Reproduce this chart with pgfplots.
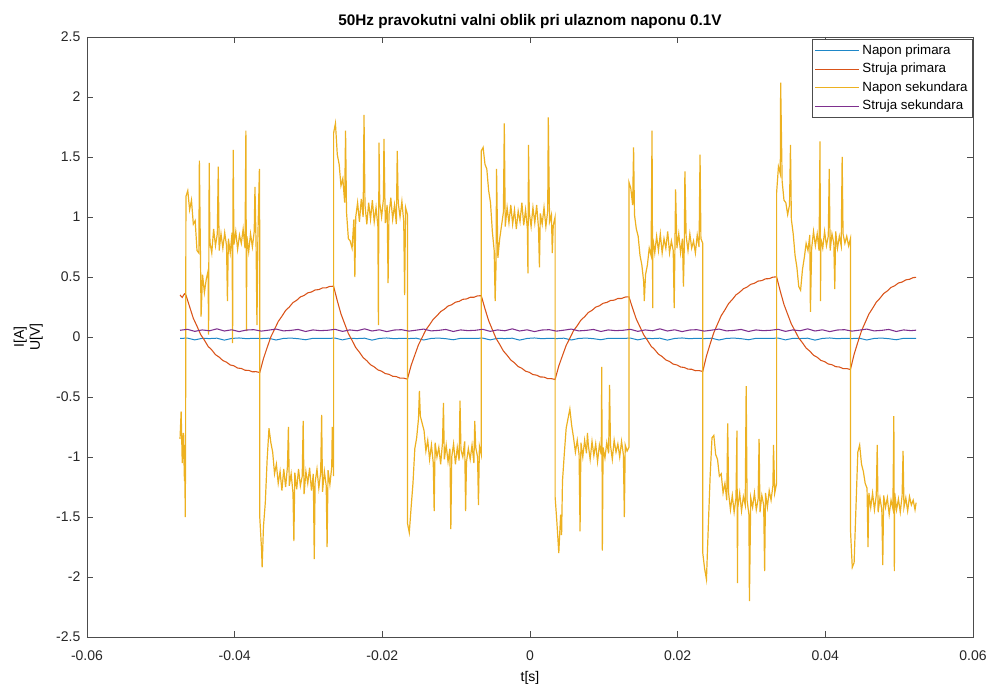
\documentclass[border=0pt]{standalone}
\usepackage{pgfplots}
\usepackage{pgfplotstable}
\pgfplotsset{compat=1.18}
\usepackage{fontspec}
\setmainfont{Liberation Sans}
\definecolor{mblue}{RGB}{30,135,200}
\definecolor{morange}{rgb}{0.85,0.325,0.098}
\definecolor{myellow}{rgb}{0.929,0.694,0.125}
\definecolor{mpurple}{rgb}{0.494,0.184,0.556}
\definecolor{axgray}{gray}{0.3}

\pgfplotstableread{
x b p
-0.0474 -0.012 0.056
-0.0464 -0.009 0.064
-0.0454 -0.024 0.047
-0.0444 -0.011 0.059
-0.0434 -0.013 0.052
-0.0424 -0.010 0.068
-0.0414 -0.026 0.050
-0.0404 -0.012 0.060
-0.0394 -0.008 0.045
-0.0384 -0.014 0.058
-0.0374 -0.011 0.061
-0.0364 -0.013 0.049
-0.0354 -0.010 0.057
-0.0344 -0.025 0.066
-0.0334 -0.012 0.051
-0.0324 -0.009 0.055
-0.0314 -0.014 0.063
-0.0304 -0.023 0.046
-0.0294 -0.011 0.059
-0.0284 -0.012 0.053
-0.0274 -0.012 0.056
-0.0264 -0.009 0.064
-0.0254 -0.024 0.047
-0.0244 -0.011 0.059
-0.0234 -0.013 0.052
-0.0224 -0.010 0.068
-0.0214 -0.026 0.050
-0.0204 -0.012 0.060
-0.0194 -0.008 0.045
-0.0184 -0.014 0.058
-0.0174 -0.011 0.061
-0.0164 -0.013 0.049
-0.0154 -0.010 0.057
-0.0144 -0.025 0.066
-0.0134 -0.012 0.051
-0.0124 -0.009 0.055
-0.0114 -0.014 0.063
-0.0104 -0.023 0.046
-0.0094 -0.011 0.059
-0.0084 -0.012 0.053
-0.0074 -0.012 0.056
-0.0064 -0.009 0.064
-0.0054 -0.024 0.047
-0.0044 -0.011 0.059
-0.0034 -0.013 0.052
-0.0024 -0.010 0.068
-0.0014 -0.026 0.050
-0.0004 -0.012 0.060
0.0006 -0.008 0.045
0.0016 -0.014 0.058
0.0026 -0.011 0.061
0.0036 -0.013 0.049
0.0046 -0.010 0.057
0.0056 -0.025 0.066
0.0066 -0.012 0.051
0.0076 -0.009 0.055
0.0086 -0.014 0.063
0.0096 -0.023 0.046
0.0106 -0.011 0.059
0.0116 -0.012 0.053
0.0126 -0.012 0.056
0.0136 -0.009 0.064
0.0146 -0.024 0.047
0.0156 -0.011 0.059
0.0166 -0.013 0.052
0.0176 -0.010 0.068
0.0186 -0.026 0.050
0.0196 -0.012 0.060
0.0206 -0.008 0.045
0.0216 -0.014 0.058
0.0226 -0.011 0.061
0.0236 -0.013 0.049
0.0246 -0.010 0.057
0.0256 -0.025 0.066
0.0266 -0.012 0.051
0.0276 -0.009 0.055
0.0286 -0.014 0.063
0.0296 -0.023 0.046
0.0306 -0.011 0.059
0.0316 -0.012 0.053
0.0326 -0.012 0.056
0.0336 -0.009 0.064
0.0346 -0.024 0.047
0.0356 -0.011 0.059
0.0366 -0.013 0.052
0.0376 -0.010 0.068
0.0386 -0.026 0.050
0.0396 -0.012 0.060
0.0406 -0.008 0.045
0.0416 -0.014 0.058
0.0426 -0.011 0.061
0.0436 -0.013 0.049
0.0446 -0.010 0.057
0.0456 -0.025 0.066
0.0466 -0.012 0.051
0.0476 -0.009 0.055
0.0486 -0.014 0.063
0.0496 -0.023 0.046
0.0506 -0.011 0.059
0.0516 -0.012 0.053
0.0523 -0.011 0.057
}\flatdata

\pgfplotstableread{
x r
-0.0474 0.350
-0.0471 0.330
-0.0468 0.360
-0.0466 0.350
-0.0461 0.252
-0.0456 0.156
-0.0451 0.090
-0.0446 0.020
-0.0441 -0.026
-0.0436 -0.078
-0.0431 -0.108
-0.0426 -0.147
-0.0421 -0.168
-0.0416 -0.196
-0.0411 -0.210
-0.0406 -0.233
-0.0401 -0.240
-0.0396 -0.259
-0.0391 -0.262
-0.0386 -0.277
-0.0381 -0.278
-0.0376 -0.290
-0.0371 -0.289
-0.0366 -0.296
-0.0361 -0.180
-0.0356 -0.088
-0.0351 0.001
-0.0346 0.064
-0.0341 0.129
-0.0336 0.173
-0.0331 0.221
-0.0326 0.250
-0.0321 0.287
-0.0316 0.306
-0.0311 0.334
-0.0306 0.346
-0.0301 0.368
-0.0296 0.375
-0.0291 0.392
-0.0286 0.395
-0.0281 0.409
-0.0276 0.410
-0.0271 0.422
-0.0266 0.423
-0.0261 0.302
-0.0256 0.192
-0.0251 0.110
-0.0246 0.029
-0.0241 -0.028
-0.0236 -0.088
-0.0231 -0.127
-0.0226 -0.171
-0.0221 -0.198
-0.0216 -0.231
-0.0211 -0.249
-0.0206 -0.274
-0.0201 -0.285
-0.0196 -0.305
-0.0191 -0.311
-0.0186 -0.327
-0.0181 -0.330
-0.0176 -0.343
-0.0171 -0.343
-0.0166 -0.351
-0.0161 -0.237
-0.0156 -0.150
-0.0151 -0.064
-0.0146 -0.003
-0.0141 0.060
-0.0136 0.102
-0.0131 0.148
-0.0126 0.177
-0.0121 0.212
-0.0116 0.231
-0.0111 0.258
-0.0106 0.269
-0.0101 0.290
-0.0096 0.297
-0.0091 0.314
-0.0086 0.317
-0.0081 0.331
-0.0076 0.331
-0.0071 0.343
-0.0066 0.344
-0.0061 0.236
-0.0056 0.136
-0.0051 0.062
-0.0046 -0.011
-0.0041 -0.062
-0.0036 -0.117
-0.0031 -0.152
-0.0026 -0.192
-0.0021 -0.215
-0.0016 -0.246
-0.0011 -0.261
-0.0006 -0.285
-0.0001 -0.294
0.0004 -0.313
0.0009 -0.318
0.0014 -0.333
0.0019 -0.334
0.0024 -0.347
0.0029 -0.347
0.0034 -0.354
0.0039 -0.241
0.0044 -0.155
0.0049 -0.070
0.0054 -0.010
0.0059 0.053
0.0064 0.094
0.0069 0.141
0.0074 0.169
0.0079 0.204
0.0084 0.222
0.0089 0.249
0.0094 0.260
0.0099 0.281
0.0104 0.288
0.0109 0.304
0.0114 0.307
0.0119 0.321
0.0124 0.321
0.0129 0.333
0.0134 0.335
0.0139 0.239
0.0144 0.149
0.0149 0.084
0.0154 0.018
0.0159 -0.027
0.0164 -0.076
0.0169 -0.106
0.0174 -0.143
0.0179 -0.163
0.0184 -0.191
0.0189 -0.204
0.0194 -0.226
0.0199 -0.233
0.0204 -0.250
0.0209 -0.254
0.0214 -0.268
0.0219 -0.269
0.0224 -0.281
0.0229 -0.280
0.0234 -0.287
0.0239 -0.159
0.0244 -0.058
0.0249 0.037
0.0254 0.108
0.0259 0.178
0.0264 0.226
0.0269 0.279
0.0274 0.312
0.0279 0.351
0.0284 0.373
0.0289 0.402
0.0294 0.416
0.0299 0.439
0.0304 0.448
0.0309 0.466
0.0314 0.470
0.0319 0.485
0.0324 0.486
0.0329 0.499
0.0334 0.501
0.0339 0.381
0.0344 0.271
0.0349 0.189
0.0354 0.108
0.0359 0.051
0.0364 -0.008
0.0369 -0.048
0.0374 -0.092
0.0379 -0.118
0.0384 -0.152
0.0389 -0.169
0.0394 -0.195
0.0399 -0.205
0.0404 -0.225
0.0409 -0.231
0.0414 -0.247
0.0419 -0.250
0.0424 -0.263
0.0429 -0.263
0.0434 -0.271
0.0439 -0.144
0.0444 -0.044
0.0449 0.051
0.0454 0.121
0.0459 0.191
0.0464 0.239
0.0469 0.290
0.0474 0.323
0.0479 0.362
0.0484 0.384
0.0489 0.413
0.0494 0.427
0.0499 0.450
0.0504 0.458
0.0509 0.476
0.0514 0.481
0.0519 0.495
0.0523 0.497
}\reddata

\pgfplotstableread{
x y
-0.0474 -0.85
-0.04725 -0.62
-0.0471 -1.05
-0.04695 -0.80
-0.0468 -1.20
-0.04675 -0.90
-0.0467 -1.50
-0.04665 -1.00
-0.0466 1.17
-0.04635 1.22
-0.0461 1.06
-0.04585 1.14
-0.0456 0.94
-0.04535 0.97
-0.0451 0.72
-0.04485 0.70
-0.04478 1.47
-0.0446 0.50
-0.04455 0.17
-0.04435 0.52
-0.0441 0.37
-0.04385 0.48
-0.0436 0.55
-0.04353 0.02
-0.04345 1.45
-0.04335 0.79
-0.0431 0.70
-0.04285 0.90
-0.0426 0.76
-0.04235 0.86
-0.04222 1.42
-0.0421 0.72
-0.04185 0.86
-0.0416 0.74
-0.04135 0.87
-0.0411 0.76
-0.04098 0.30
-0.04085 0.82
-0.0406 0.70
-0.04035 0.87
-0.04028 -0.05
-0.0402 1.56
-0.0401 0.77
-0.03985 0.88
-0.0396 0.73
-0.03935 0.85
-0.0391 0.78
-0.03885 0.90
-0.0386 0.74
-0.03848 1.72
-0.0384 0.05
-0.03835 0.84
-0.0381 0.71
-0.03785 0.86
-0.0376 0.75
-0.03735 0.88
-0.03725 1.25
-0.0371 0.77
-0.03698 0.10
-0.03685 0.85
-0.03665 1.40
-0.0366 0.78
-0.0366 -1.50
-0.03635 -1.78
-0.03628 -1.92
-0.0361 -1.58
-0.03585 -1.38
-0.0356 -1.02
-0.03535 -0.76
-0.0351 -0.88
-0.03485 -0.96
-0.0346 -1.14
-0.03435 -1.06
-0.0341 -1.22
-0.03385 -1.12
-0.0336 -1.28
-0.03335 -1.10
-0.0331 -1.25
-0.03285 -1.08
-0.03272 -0.75
-0.0326 -1.24
-0.03235 -1.14
-0.0321 -1.30
-0.03198 -1.70
-0.03185 -1.13
-0.0316 -1.27
-0.03135 -1.10
-0.0311 -1.24
-0.03085 -1.16
-0.03072 -0.70
-0.0306 -1.31
-0.03035 -1.12
-0.0301 -1.22
-0.02985 -1.09
-0.0296 -1.28
-0.02935 -1.14
-0.02922 -1.85
-0.0291 -1.21
-0.02885 -1.10
-0.0286 -1.26
-0.02835 -1.13
-0.02822 -0.65
-0.0281 -1.29
-0.02785 -1.12
-0.0276 -1.24
-0.02748 -1.75
-0.02735 -1.11
-0.0271 -1.23
-0.02685 -1.08
-0.02678 -0.75
-0.0266 -1.16
-0.0266 1.70
-0.02635 1.78
-0.0261 1.52
-0.02585 1.44
-0.0256 1.26
-0.02535 1.32
-0.0251 1.12
-0.02498 1.72
-0.02485 1.04
-0.0246 0.82
-0.02435 0.80
-0.0241 0.74
-0.02385 0.98
-0.02372 0.50
-0.0236 1.00
-0.02335 1.12
-0.0231 0.96
-0.02285 1.15
-0.0226 1.00
-0.02248 1.85
-0.02235 1.10
-0.0221 0.94
-0.02185 1.12
-0.0216 0.98
-0.02135 1.14
-0.0211 0.96
-0.02085 1.08
-0.0206 0.92
-0.02053 0.10
-0.02045 1.62
-0.02035 1.12
-0.0201 1.00
-0.01985 1.15
-0.01978 1.65
-0.0196 0.95
-0.01935 1.10
-0.01922 0.45
-0.0191 1.02
-0.01885 1.16
-0.0186 0.98
-0.01835 1.10
-0.0181 0.94
-0.01798 1.55
-0.01785 1.12
-0.0176 1.00
-0.01735 1.13
-0.0171 0.96
-0.01698 0.35
-0.01685 1.08
-0.0166 1.02
-0.0166 -1.55
-0.01635 -1.63
-0.0161 -1.42
-0.01585 -1.22
-0.0156 -0.93
-0.01535 -0.84
-0.0151 -0.68
-0.01498 -0.45
-0.01485 -0.66
-0.0146 -0.72
-0.01435 -0.78
-0.0141 -0.95
-0.01385 -0.86
-0.0136 -1.02
-0.01335 -0.90
-0.0131 -1.05
-0.01298 -1.45
-0.01285 -0.88
-0.0126 -1.00
-0.01235 -0.92
-0.0121 -1.06
-0.01185 -0.88
-0.01172 -0.55
-0.0116 -1.02
-0.01135 -0.90
-0.0111 -1.04
-0.01085 -0.93
-0.01072 -1.60
-0.0106 -1.00
-0.01035 -0.89
-0.0101 -1.06
-0.00985 -0.92
-0.0096 -1.03
-0.00948 -0.53
-0.00935 -0.94
-0.0091 -1.00
-0.00885 -0.87
-0.00872 -1.45
-0.0086 -1.04
-0.00835 -0.93
-0.0081 -1.02
-0.00785 -0.90
-0.0076 -1.05
-0.00748 -0.70
-0.00735 -0.92
-0.0071 -1.00
-0.00698 -1.40
-0.00685 -0.91
-0.0066 -0.98
-0.0066 1.55
-0.00635 1.58
-0.0061 1.44
-0.00585 1.40
-0.0056 1.22
-0.00535 1.12
-0.0051 0.88
-0.00485 0.72
-0.00472 0.30
-0.0046 0.60
-0.00453 1.40
-0.00435 0.66
-0.0041 0.82
-0.00385 0.93
-0.0036 1.04
-0.00348 1.78
-0.00335 0.92
-0.0031 1.08
-0.00285 0.95
-0.0026 1.10
-0.00235 0.94
-0.0021 1.06
-0.00185 0.90
-0.0016 1.05
-0.00135 0.96
-0.0011 1.12
-0.00085 0.93
-0.0006 1.06
-0.00035 0.90
-0.00028 0.53
-0.0002 1.60
-0.0001 1.04
0.00015 0.92
0.0004 1.08
0.00065 0.95
0.0009 1.10
0.00115 0.91
0.00128 0.58
0.0014 1.03
0.00165 0.94
0.0019 1.08
0.00215 0.92
0.0024 1.05
0.00248 1.83
0.00265 0.96
0.0029 1.02
0.00302 0.70
0.00315 0.93
0.0034 1.00
0.0034 -1.33
0.00365 -1.55
0.0039 -1.80
0.00415 -1.48
0.00428 -1.65
0.0044 -1.20
0.00465 -0.97
0.0049 -0.76
0.00515 -0.68
0.0054 -0.60
0.00565 -0.74
0.0059 -0.84
0.00615 -0.96
0.0064 -0.86
0.00665 -0.98
0.00678 -1.62
0.0069 -0.88
0.00715 -1.00
0.0074 -0.86
0.00765 -0.97
0.00778 -0.80
0.0079 -0.90
0.00815 -1.02
0.0084 -0.87
0.00865 -0.99
0.0089 -0.89
0.00915 -1.04
0.0094 -0.90
0.00965 -0.98
0.00972 -0.25
0.0098 -1.78
0.0099 -0.92
0.01015 -1.01
0.0104 -0.88
0.01065 -0.97
0.01078 -0.40
0.0109 -0.90
0.01115 -1.02
0.0114 -0.86
0.01165 -0.96
0.0119 -0.89
0.01215 -1.00
0.0124 -0.87
0.01265 -0.98
0.01278 -1.50
0.0129 -0.90
0.01315 -0.95
0.0134 -0.92
0.0134 1.29
0.01365 1.24
0.0139 1.10
0.01403 1.58
0.01415 1.02
0.0144 0.90
0.01465 0.84
0.0149 0.68
0.01515 0.60
0.0154 0.46
0.01548 0.30
0.01565 0.52
0.0159 0.60
0.01615 0.74
0.0164 0.68
0.01653 1.72
0.01662 0.24
0.01665 0.82
0.0169 0.70
0.01715 0.84
0.0174 0.72
0.01765 0.86
0.0179 0.70
0.01815 0.82
0.0184 0.74
0.01865 0.88
0.0189 0.70
0.01915 0.80
0.0194 0.72
0.01953 0.24
0.01965 0.85
0.01972 1.23
0.0199 0.74
0.02015 0.86
0.0204 0.70
0.02065 0.82
0.02078 0.42
0.0209 0.76
0.02098 1.38
0.02115 0.84
0.0214 0.72
0.02165 0.86
0.0219 0.74
0.02215 0.80
0.0224 0.70
0.02265 0.85
0.0229 0.75
0.02303 1.52
0.02315 0.82
0.0234 0.78
0.0234 -1.80
0.02365 -1.93
0.0239 -2.02
0.02415 -1.58
0.0244 -1.16
0.02465 -0.84
0.0249 -0.82
0.02515 -0.98
0.0254 -1.02
0.02565 -1.16
0.0259 -1.14
0.02615 -1.30
0.0264 -1.22
0.02665 -1.36
0.02678 -0.72
0.0269 -1.30
0.02715 -1.44
0.0274 -1.32
0.02765 -1.46
0.0279 -1.34
0.02803 -0.78
0.0281 -2.05
0.02815 -1.42
0.0284 -1.30
0.02865 -1.45
0.0289 -1.33
0.02915 -1.40
0.02928 -0.41
0.0294 -1.36
0.02965 -1.48
0.02972 -2.20
0.0299 -1.34
0.03015 -1.42
0.0304 -1.30
0.03065 -1.44
0.0309 -1.35
0.03103 -0.85
0.03115 -1.46
0.0314 -1.32
0.03165 -1.40
0.03178 -1.95
0.0319 -1.30
0.03215 -1.42
0.0324 -1.28
0.03265 -1.36
0.0329 -1.24
0.03298 -0.90
0.03315 -1.30
0.0334 -1.22
0.0334 1.20
0.03365 1.42
0.0339 1.36
0.03395 2.12
0.03415 1.30
0.0344 1.14
0.03465 1.12
0.0349 1.02
0.03515 1.10
0.03528 1.60
0.0354 0.98
0.03565 0.86
0.0359 0.68
0.03615 0.58
0.0364 0.42
0.03665 0.39
0.0369 0.56
0.03715 0.66
0.0374 0.78
0.03765 0.72
0.0379 0.85
0.03798 0.21
0.03815 0.74
0.0384 0.88
0.03865 0.76
0.0389 0.86
0.03915 0.72
0.03928 1.63
0.03935 0.30
0.0394 0.82
0.03965 0.74
0.0399 0.88
0.04015 0.76
0.0404 0.84
0.04053 1.40
0.04065 0.72
0.0409 0.86
0.04115 0.78
0.04128 0.40
0.0414 0.88
0.04165 0.74
0.0419 0.84
0.04215 0.76
0.04228 1.50
0.0424 0.86
0.04265 0.78
0.0429 0.84
0.04315 0.76
0.0434 0.82
0.0434 -1.60
0.04365 -1.92
0.0439 -1.88
0.04415 -1.42
0.0444 -0.96
0.04465 -0.90
0.0449 -1.06
0.04515 -1.12
0.0454 -1.22
0.04565 -1.26
0.04578 -1.75
0.0459 -1.30
0.04615 -1.42
0.0464 -1.30
0.04665 -1.44
0.0469 -1.32
0.04703 -0.90
0.04715 -1.46
0.0474 -1.34
0.04765 -1.44
0.04778 -1.90
0.0479 -1.32
0.04815 -1.42
0.0484 -1.34
0.04865 -1.48
0.0489 -1.36
0.04915 -1.43
0.04928 -0.66
0.04935 -1.95
0.0494 -1.30
0.04965 -1.44
0.0499 -1.35
0.05015 -1.46
0.0504 -1.32
0.05053 -0.95
0.05065 -1.42
0.0509 -1.34
0.05115 -1.45
0.0514 -1.33
0.05165 -1.40
0.0519 -1.36
0.05215 -1.44
0.0523 -1.38
}\yellowdata

\begin{document}
\begin{tikzpicture}
\useasboundingbox (-65.25pt,-36.75pt) rectangle (678.75pt,477.75pt);
\begin{axis}[
  at={(0,0)}, anchor=south west,
  scale only axis, width=664.5pt, height=450pt,
  xmin=-0.06, xmax=0.06, ymin=-2.5, ymax=2.5,
  xtick={-0.06,-0.04,-0.02,0,0.02,0.04,0.06},
  ytick={-2.5,-2,-1.5,-1,-0.5,0,0.5,1,1.5,2,2.5},
  scaled x ticks=false, scaled y ticks=false,
  /pgf/number format/assume math mode=true,
  xticklabel style={/pgf/number format/fixed, /pgf/number format/precision=2, yshift=-6.5pt},
  yticklabel style={/pgf/number format/fixed, /pgf/number format/precision=1, xshift=-1.5pt},
  every tick label/.append style={font=\fontsize{10.5}{12}\selectfont, text=black!85},
  tick align=inside, major tick length=4.5pt,
  axis line style={axgray, line width=0.5pt},
  tick style={axgray, line width=0.5pt},
  title={50Hz pravokutni valni oblik pri ulaznom naponu 0.1V},
  title style={font=\bfseries\fontsize{11.5}{13}\selectfont, at={(axis description cs:0.5,1)}, anchor=south, yshift=-3.5pt},
  xlabel={t[s]},
  xlabel style={font=\fontsize{10.5}{12}\selectfont, at={(axis description cs:0.5,0)}, anchor=center, yshift=-30.5pt},
  ylabel={I[A]\\U[V]},
  ylabel style={font=\fontsize{10.5}{12}\selectfont, align=center, at={(axis description cs:0,0.5)}, anchor=center, yshift=44pt},
  legend style={at={(1,1)}, anchor=north east, yshift=-1.5pt, draw=axgray,
    font=\fontsize{10}{11}\selectfont, inner xsep=2pt, inner ysep=1.8pt, row sep=0pt,
    nodes={inner sep=1.8pt, text height=7.6pt, text depth=2.6pt}},
  legend cell align=left,
  legend image code/.code={\draw[#1] (0pt,0pt) -- (33pt,0pt);},
]
\addplot[mblue, line width=0.75pt, forget plot] table[x=x, y=b] {\flatdata};
\addplot[morange, line width=0.8pt, forget plot] table[x=x, y=r] {\reddata};
\addplot[myellow, line width=0.9pt, forget plot] table[x=x, y=y] {\yellowdata};
\addplot[mpurple, line width=0.8pt, forget plot] table[x=x, y=p] {\flatdata};
\addlegendimage{draw=mblue, line width=0.8pt}
\addlegendentry{Napon primara}
\addlegendimage{draw=morange, line width=0.8pt}
\addlegendentry{Struja primara}
\addlegendimage{draw=myellow, line width=0.8pt}
\addlegendentry{Napon sekundara}
\addlegendimage{draw=mpurple, line width=0.8pt}
\addlegendentry{Struja sekundara}
\end{axis}
\end{tikzpicture}
\end{document}
